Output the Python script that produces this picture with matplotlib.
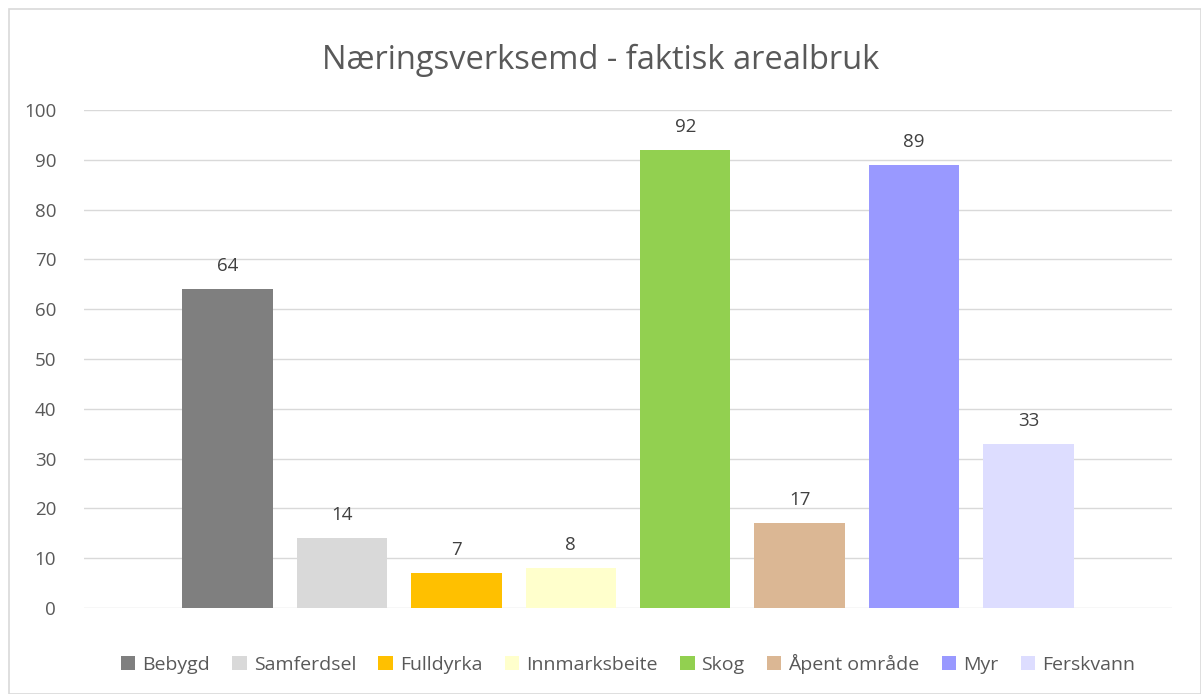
import matplotlib.pyplot as plt
from matplotlib.patches import Rectangle

categories = ['Bebygd', 'Samferdsel', 'Fulldyrka', 'Innmarksbeite', 'Skog',
              'Åpent område', 'Myr', 'Ferskvann']
values = [64, 14, 7, 8, 92, 17, 89, 33]
bar_colors = ['#7F7F7F', '#D9D9D9', '#FFC000', '#FFFFCC', '#92D050',
              '#DBB794', '#9999FF', '#DDDDFF']
y_ticks = [0, 10, 20, 30, 40, 50, 60, 70, 80, 90, 100]

text_color = '#595959'
grid_color = '#D9D9D9'

plt.rcParams['font.family'] = ['Open Sans', 'DejaVu Sans']

fig = plt.figure(figsize=(12.01, 6.94), dpi=100)
ax = fig.add_axes([0.0699, 0.1239, 0.906, 0.7176])

# outer chart frame
fig.patches.append(Rectangle((0.0075, 0.0), 0.9925, 0.987, transform=fig.transFigure,
                             fill=False, edgecolor=grid_color, lw=1.2))

for i, (name, val, col) in enumerate(zip(categories, values, bar_colors)):
    ax.bar(i, val, width=0.79, color=col, label=name, zorder=3)
    ax.text(i, val + 2.8, str(val), ha='center', va='bottom', fontsize=13.5, color='#404040')

ax.set_xlim(-1.253, 8.253)
ax.set_ylim(0, 100)
ax.set_yticks(y_ticks)
ax.set_yticklabels([str(t) for t in y_ticks], fontsize=13.5, color=text_color)
ax.set_xticks([])
ax.tick_params(axis='y', length=0, pad=20)
ax.grid(axis='y', color=grid_color, lw=1, zorder=0)
for s in ax.spines.values():
    s.set_visible(False)

fig.suptitle('Næringsverksemd - faktisk arealbruk', y=0.937, fontsize=23.5, color=text_color)

ax.legend(loc='center', bbox_to_anchor=(0.5, -0.112), bbox_transform=ax.transAxes,
          ncol=8, frameon=False, fontsize=14, labelcolor=text_color,
          handlelength=0.75, handleheight=0.75, handletextpad=0.35, columnspacing=1.15)

fig.savefig('out.png', dpi=100)
